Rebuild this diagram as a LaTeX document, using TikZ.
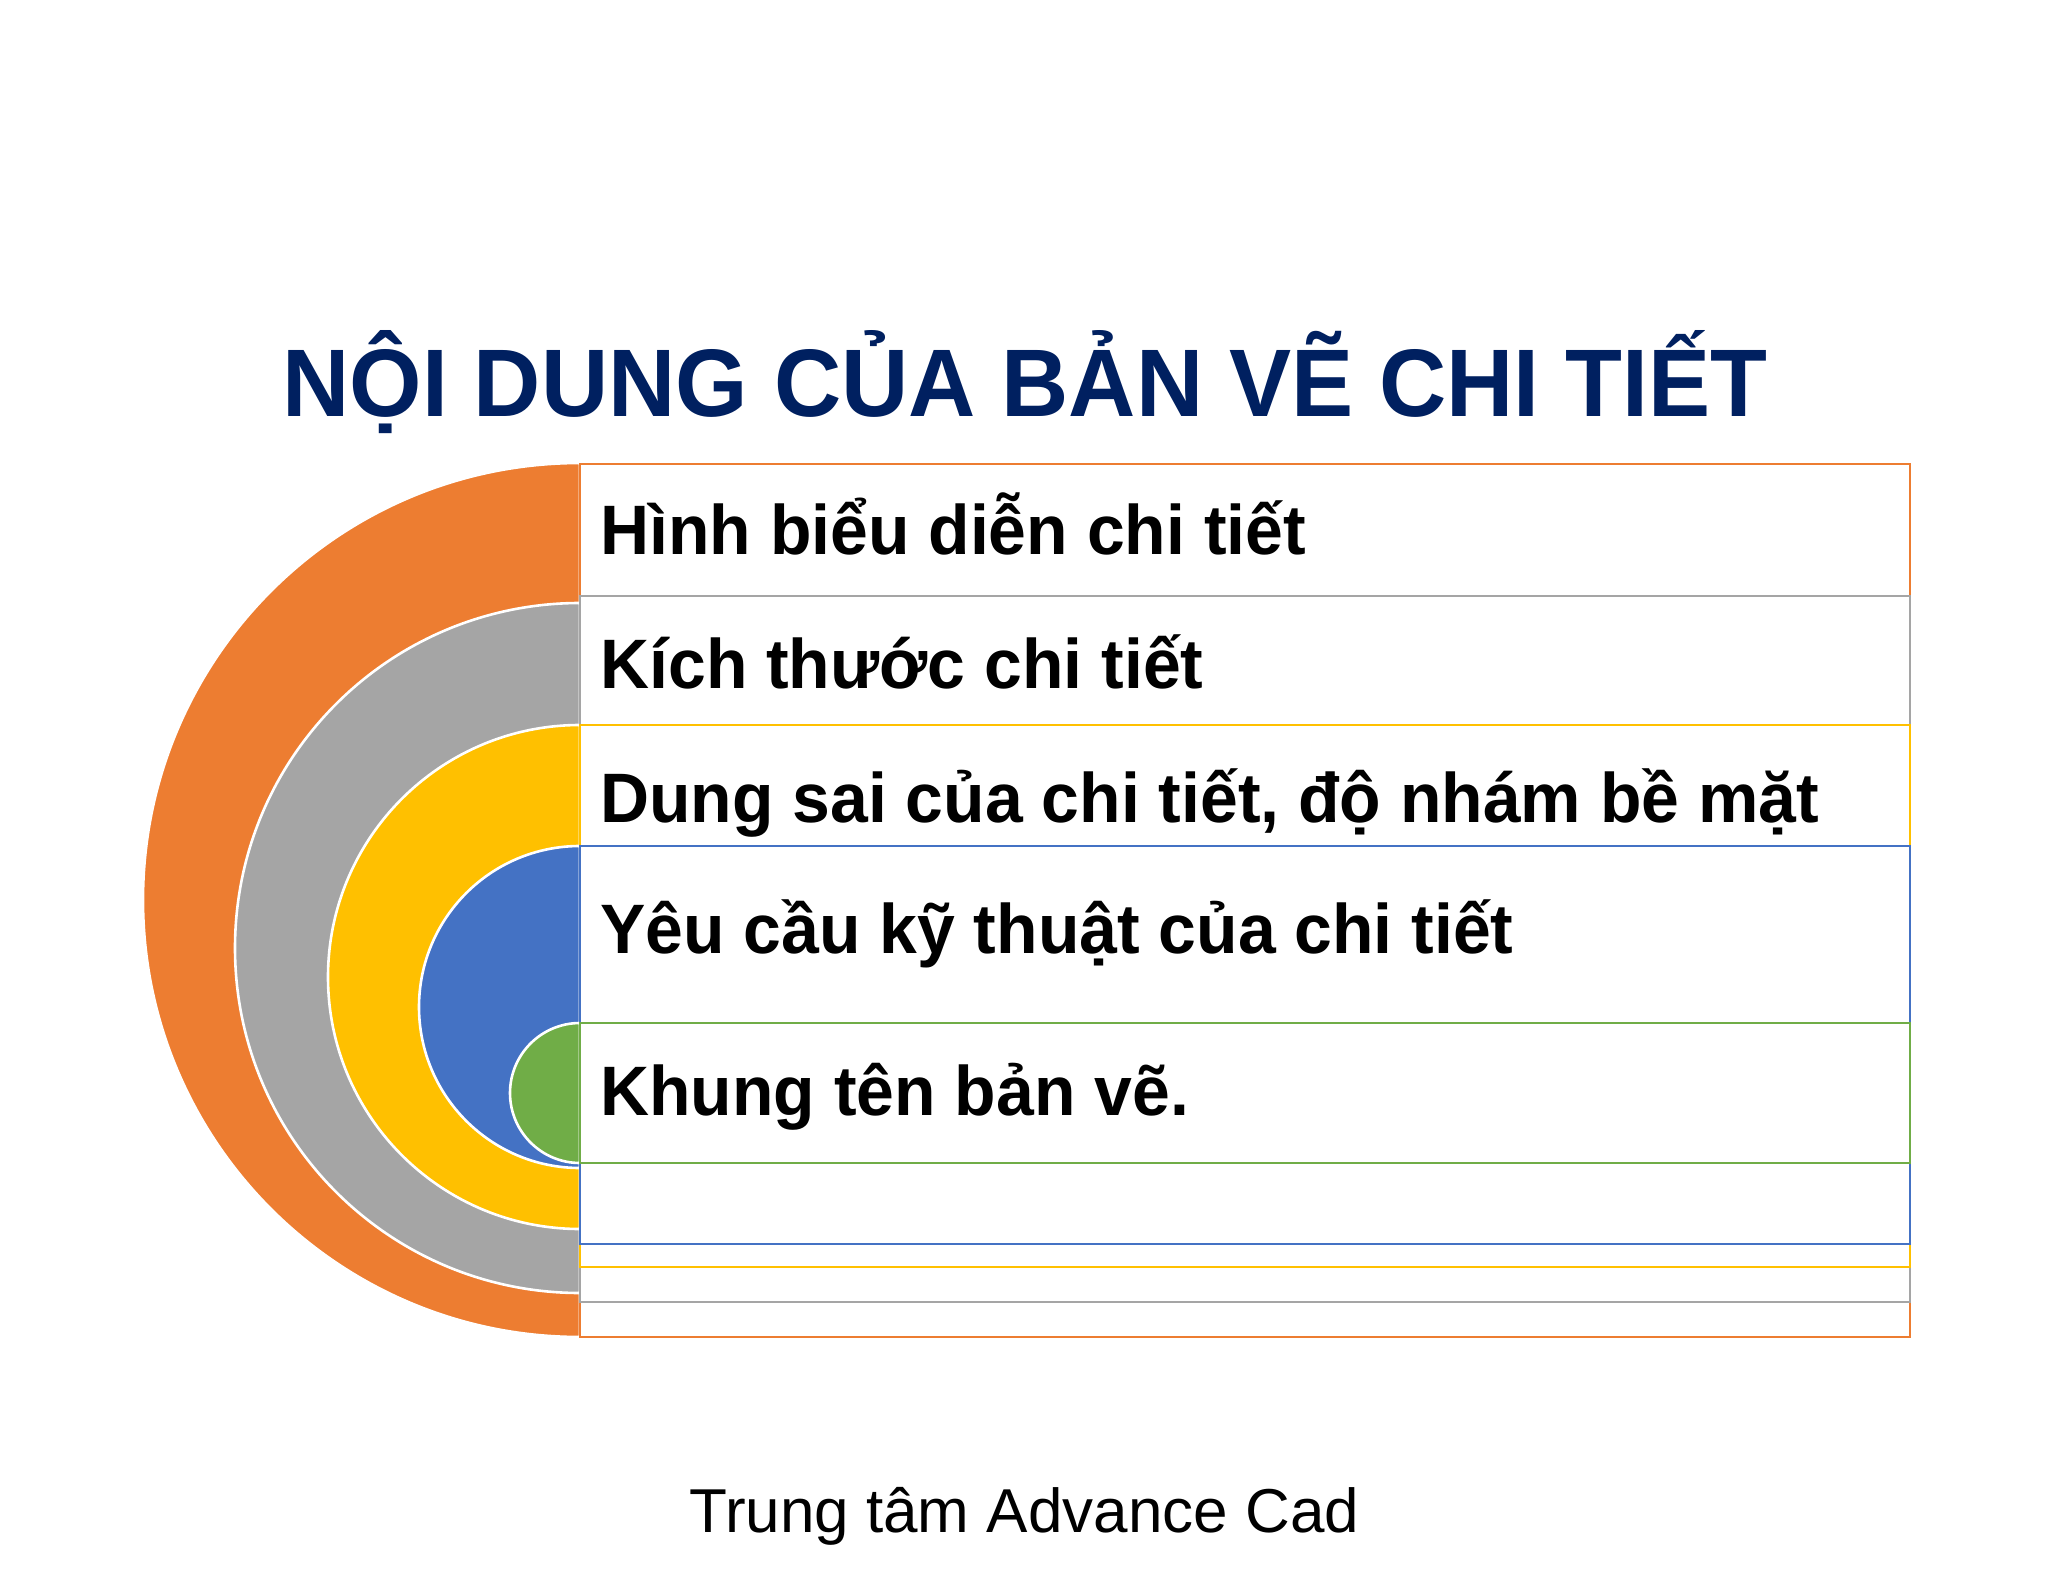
\documentclass[tikz,border=0pt]{standalone}
\usepackage{fontspec}
\setmainfont{Liberation Sans}
\newfontfamily\narrowfont[FakeStretch=0.97]{Liberation Sans}
\definecolor{cOrange}{HTML}{ED7D31}
\definecolor{cGray}{HTML}{A5A5A5}
\definecolor{cYellow}{HTML}{FFC000}
\definecolor{cBlue}{HTML}{4472C4}
\definecolor{cGreen}{HTML}{70AD47}
\definecolor{cTitle}{HTML}{002060}
\tikzset{
  halfdisc/.style={draw=white, line width=1.3pt},
  band/.style={fill=white, line width=1pt},
  itemtext/.style={anchor=base west, inner sep=0pt, font=\narrowfont\bfseries\fontsize{35}{40}\selectfont, text=black},
}
\begin{document}
\begin{tikzpicture}[x=0.5pt, y=-0.5pt]
\useasboundingbox[fill=white] (0,0) rectangle (2048,1582);
% half discs
\fill[cOrange, halfdisc] (580,1337) arc[start angle=90, end angle=270, radius=437] -- cycle;
\fill[cGray, halfdisc] (580,1293) arc[start angle=90, end angle=270, radius=345] -- cycle;
\fill[cYellow, halfdisc] (580,1229) arc[start angle=90, end angle=270, radius=252] -- cycle;
\fill[cBlue, halfdisc] (580,1168) arc[start angle=90, end angle=270, radius=161] -- cycle;
\fill[cGreen, halfdisc] (580,1163) arc[start angle=90, end angle=270, radius=70] -- cycle;
% bands
\draw[band, draw=cOrange] (580,464) rectangle (1910,1337);
\draw[band, draw=cGray] (580,596) rectangle (1910,1302);
\draw[band, draw=cYellow] (580,725) rectangle (1910,1267);
\draw[band, draw=cBlue] (580,846) rectangle (1910,1244);
\draw[band, draw=cGreen] (580,1023) rectangle (1910,1163);
% title
\node[anchor=base, inner sep=0pt, font=\narrowfont\bfseries\fontsize{48}{56}\selectfont, text=cTitle] (title) at (1025,417) {NỘI DUNG CỦA BẢN VẼ CHI TIẾT};
% items
\node[itemtext] (i1) at (600,554) {Hình biểu diễn chi tiết};
\node[itemtext] (i2) at (600,688) {Kích thước chi tiết};
\node[itemtext] (i3) at (600,822) {Dung sai của chi tiết, độ nhám bề mặt};
\node[itemtext] (i4) at (600,953) {Yêu cầu kỹ thuật của chi tiết};
\node[itemtext] (i5) at (600,1115) {Khung tên bản vẽ.};
% footer
\node[anchor=base west, inner sep=0pt, font=\fontsize{31}{36}\selectfont] (foot) at (689,1532) {Trung tâm Advance Cad};
\end{tikzpicture}
\end{document}
